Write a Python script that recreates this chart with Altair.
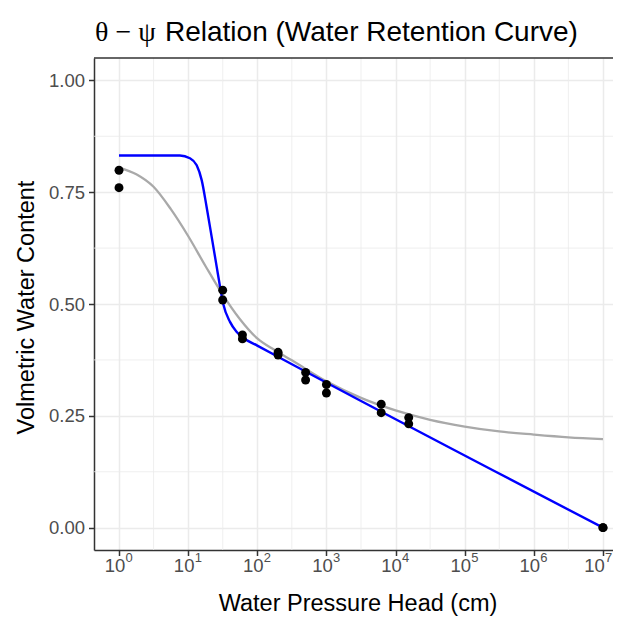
import altair as alt
import pandas as pd

# ---------------- data ----------------
point_head = [1, 1, 31.6, 31.6, 61, 61, 200, 200, 500, 500, 1000, 1000,
              6200, 6200, 15500, 15500, 1e7, 1e7]
point_theta = [0.799, 0.760, 0.531, 0.509, 0.431, 0.422, 0.392, 0.386,
               0.347, 0.330, 0.320, 0.301, 0.276, 0.257, 0.246, 0.232,
               0.0, 0.0]

gray_head = [1, 1.78, 3.16, 5.62, 10, 17.8, 31.6, 56.2, 100, 178, 316,
             1000, 3162, 10000, 31623, 1e5, 3.16e5, 1e6, 3.16e6, 1e7]
gray_theta = [0.805, 0.790, 0.762, 0.712, 0.652, 0.585, 0.521, 0.466,
              0.423, 0.397, 0.374, 0.327, 0.290, 0.262, 0.241, 0.226,
              0.215, 0.208, 0.202, 0.198]

blue_head = [1, 7.6, 10.6, 13.3, 15.7, 18.5, 21.9, 25.9, 28.9, 32.2,
             40.3, 50.1, 63.1, 100, 236, 1e7]
blue_theta = [0.832, 0.832, 0.826, 0.810, 0.777, 0.717, 0.650, 0.583,
              0.539, 0.500, 0.460, 0.438, 0.424, 0.407, 0.376, 0.0]

x_major = [1, 10, 100, 1000, 1e4, 1e5, 1e6, 1e7]
x_base = ["10"] * 8
x_exponent = ["0", "1", "2", "3", "4", "5", "6", "7"]
x_minor = [3.162, 31.62, 316.2, 3162, 31623, 316228, 3162278]
y_major = [0.0, 0.25, 0.5, 0.75, 1.0]
y_minor = [0.125, 0.375, 0.625, 0.875]

title_greek = "θ − ψ"
title_words = "Relation (Water Retention Curve)"
x_title = "Water Pressure Head (cm)"
y_title = "Volmetric Water Content"

# ---------------- layout ----------------
W, H = 519, 492
PAD_L, PAD_T = 86, 50
FONT = "Liberation Sans"
GRID = "#EBEBEB"
DARK = "#333333"
LABEL = "#4D4D4D"

xs = alt.Scale(type="log", domain=[10 ** -0.3616, 10 ** 7.1449], nice=False)
ys = alt.Scale(domain=[-0.05, 1.05], nice=False, zero=False)

pts = pd.DataFrame({"h": point_head, "t": point_theta})
gray = pd.DataFrame({"h": gray_head, "t": gray_theta})
blue = pd.DataFrame({"h": blue_head, "t": blue_theta})
xmin = pd.DataFrame({"h": x_minor})
ymin = pd.DataFrame({"t": y_minor})
xlab = pd.DataFrame({"h": x_major, "b": x_base, "e": x_exponent})
ttl = pd.DataFrame({"g": [title_greek], "w": [title_words]})

x_axis = alt.Axis(values=x_major, labels=False,
                  tickSize=5.5, tickColor=DARK, tickWidth=1.5,
                  domainColor=DARK, domainWidth=1.5,
                  grid=True, gridColor=GRID, gridWidth=1.5,
                  title=x_title, titleFont=FONT, titleFontSize=23.5,
                  titleFontWeight="normal", titleColor="black",
                  titleX=W / 2 + 4, titleY=60, titleBaseline="alphabetic")
y_axis = alt.Axis(values=y_major, format=".2f",
                  labelFont=FONT, labelFontSize=18.5, labelColor=LABEL,
                  labelPadding=4, tickSize=5.5, tickColor=DARK, tickWidth=1.5,
                  domainColor=DARK, domainWidth=1.5,
                  grid=True, gridColor=GRID, gridWidth=1.5,
                  title=y_title, titleFont=FONT, titleFontSize=23.5,
                  titleFontWeight="normal", titleColor="black",
                  titleX=-61, titleY=H / 2 + 3, titleBaseline="alphabetic")

X = alt.X("h:Q", scale=xs, axis=x_axis)
Y = alt.Y("t:Q", scale=ys, axis=y_axis)

minor_x = alt.Chart(xmin).mark_rule(color=GRID, strokeWidth=0.8).encode(x=X)
minor_y = alt.Chart(ymin).mark_rule(color=GRID, strokeWidth=0.8).encode(y=Y)

gray_line = alt.Chart(gray).mark_line(color="#A9A9A9", strokeWidth=2.3,
                                      interpolate="monotone").encode(x=X, y=Y)
blue_line = alt.Chart(blue).mark_line(color="#0000FF", strokeWidth=2.4,
                                      interpolate="monotone").encode(x=X, y=Y)
points = alt.Chart(pts).mark_circle(color="black", size=80,
                                    opacity=1).encode(x=X, y=Y)


def tick_labels(flt, shift):
    base = alt.Chart(xlab).transform_filter(flt).mark_text(
        align="center", baseline="alphabetic", dx=-4 + shift,
        font=FONT, fontSize=18.5, color=LABEL).encode(
        x=X, y=alt.value(H + 22), text="b:N")
    sup = alt.Chart(xlab).transform_filter(flt).mark_text(
        align="left", baseline="alphabetic", dx=6.5 + shift,
        font=FONT, fontSize=13, color=LABEL).encode(
        x=X, y=alt.value(H + 12), text="e:N")
    return [base, sup]


labels_main = tick_labels("datum.h < 5000000", 0)
labels_last = tick_labels("datum.h > 5000000", -4.5)

top_border = alt.Chart(ttl).mark_rule(color=DARK, strokeWidth=1.5).encode(
    x=alt.value(0), x2=alt.value(W), y=alt.value(0))

title_a = alt.Chart(ttl).mark_text(align="left", baseline="alphabetic",
                                   font="Liberation Serif", fontSize=28,
                                   color="black").encode(
    x=alt.value(1), y=alt.value(-17), text="g:N")
title_b = alt.Chart(ttl).mark_text(align="left", baseline="alphabetic",
                                   font=FONT, fontSize=28,
                                   color="black").encode(
    x=alt.value(71), y=alt.value(-17), text="w:N")

chart = alt.layer(minor_x, minor_y, gray_line, blue_line, points,
                  *labels_main, *labels_last, top_border,
                  title_a, title_b).properties(
    width=W, height=H,
    autosize=alt.AutoSizeParams(type="none"),
    padding={"left": PAD_L, "top": PAD_T, "right": 0, "bottom": 66},
    background="white",
).configure_view(stroke=None)

chart.save("out.html", embed_options={"renderer": "svg", "actions": False})
